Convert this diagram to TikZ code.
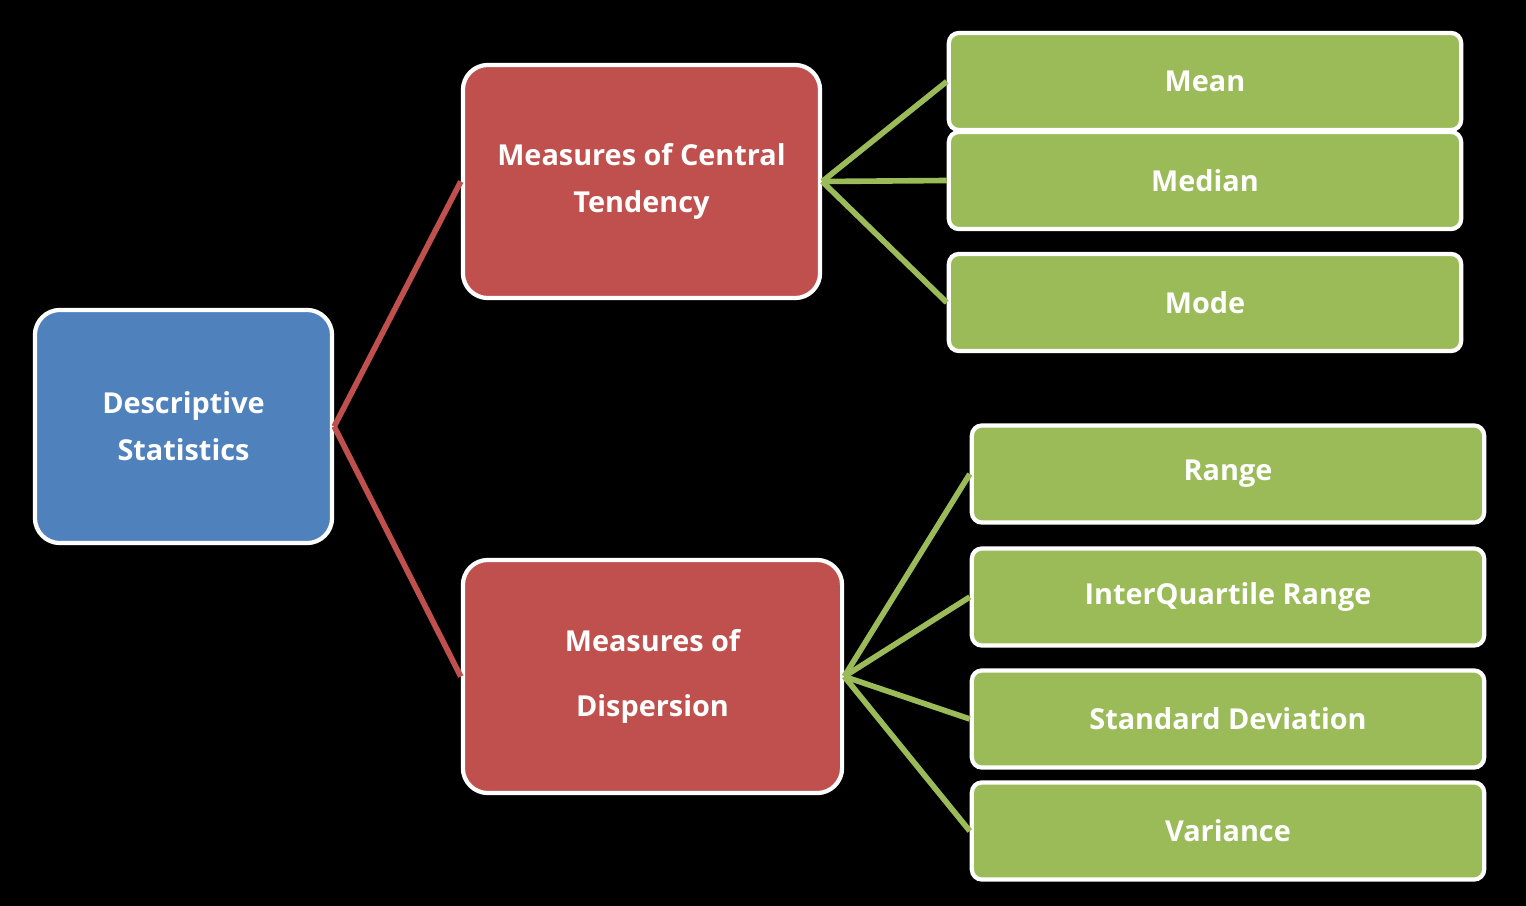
\documentclass[tikz,border=0pt]{standalone}
\usepackage{fontspec}
\setmainfont{Open Sans}
\usetikzlibrary{positioning}
\definecolor{rootblue}{HTML}{4F81BD}
\definecolor{groupred}{HTML}{C0504D}
\definecolor{leafgreen}{HTML}{9BBB59}
\tikzset{
%connector styles:
redlink/.style = {draw=groupred, line width=1.6pt},
greenlink/.style = {draw=leafgreen, line width=1.6pt}
}

\begin{document}
\begin{tikzpicture}[x=0.01cm, y=-0.01cm,
			root/.style = {rectangle, draw=white, line width=1.2pt, rounded corners=0.25cm, fill=rootblue, text=white, align=center, font=\fontsize{8.2}{13.3}\selectfont\bfseries, minimum width=2.97cm, minimum height=2.33cm},
			group/.style = {root, fill=groupred, minimum height=2.33cm},
			leaf/.style = {rectangle, draw=white, line width=1.2pt, rounded corners=0.1cm, fill=leafgreen, text=white, font=\fontsize{8.2}{13.3}\selectfont\bfseries, minimum width=5.12cm, minimum height=0.97cm},
		]

		\useasboundingbox[fill=black] (0,0) rectangle (1526,906);

		\node[root](desc) at (183.5,426.5){Descriptive\\Statistics};
		\node[group, minimum width=3.57cm](central) at (641.5,181.5){Measures of Central\\Tendency};
		\node[group, minimum width=3.79cm](disp) at (652.5,676.5){Measures of\\[5pt]Dispersion};

		\node[leaf](mean) at (1205,81.5){Mean};
		\node[leaf](median) at (1205,180.5){Median};
		\node[leaf](mode) at (1205,302.5){Mode};

		\node[leaf](range) at (1228,474){Range};
		\node[leaf](iqr) at (1228,597){InterQuartile Range};
		\node[leaf](sd) at (1228,719){Standard Deviation};
		\node[leaf](var) at (1228,831){Variance};

		\draw[redlink](desc.east)--(central.west);
		\draw[redlink](desc.east)--(disp.west);

		\foreach \leafname in {mean, median, mode}
			\draw[greenlink](central.east)--(\leafname.west);
		\foreach \leafname in {range, iqr, sd, var}
			\draw[greenlink](disp.east)--(\leafname.west);

	\end{tikzpicture}
\end{document}
